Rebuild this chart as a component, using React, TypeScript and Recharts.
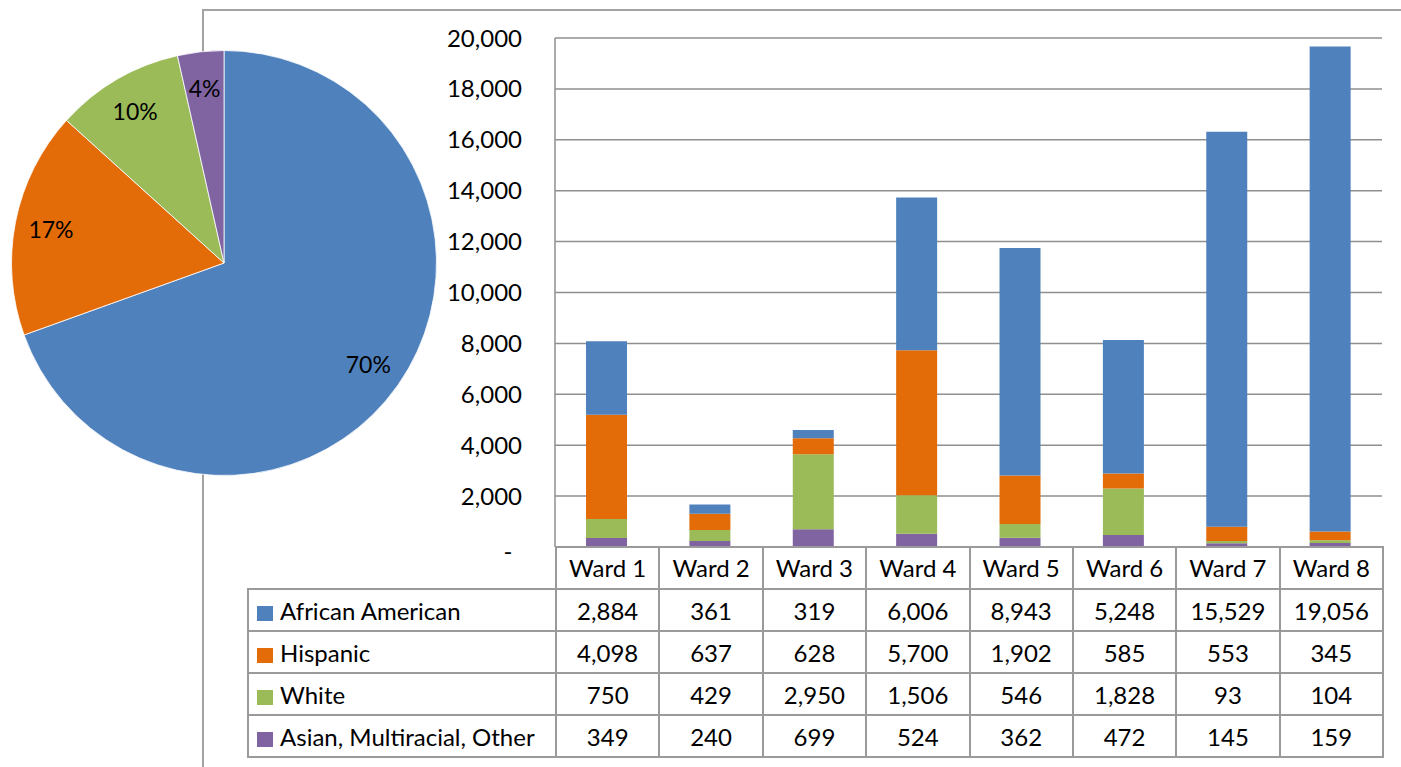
import { PieChart, Pie, Cell, BarChart, Bar, XAxis, YAxis, CartesianGrid } from "recharts";

const wards = ["Ward 1", "Ward 2", "Ward 3", "Ward 4", "Ward 5", "Ward 6", "Ward 7", "Ward 8"];
const africanAmerican = [2884, 361, 319, 6006, 8943, 5248, 15529, 19056];
const hispanic = [4098, 637, 628, 5700, 1902, 585, 553, 345];
const white = [750, 429, 2950, 1506, 546, 1828, 93, 104];
const asianOther = [349, 240, 699, 524, 362, 472, 145, 159];
const yTicks = [0, 2000, 4000, 6000, 8000, 10000, 12000, 14000, 16000, 18000, 20000];

const FONT = "Lato, 'Open Sans', sans-serif";
const GRID = "#8f8f8f";

// table rows top to bottom, stacks bottom to top is the reverse
const series = [
  { key: "aa", name: "African American", values: africanAmerican, color: "#4F81BD" },
  { key: "hisp", name: "Hispanic", values: hispanic, color: "#E36C09" },
  { key: "white", name: "White", values: white, color: "#9BBB59" },
  { key: "asian", name: "Asian, Multiracial, Other", values: asianOther, color: "#8064A2" },
];

const barData = wards.map((ward, i) => {
  const row: Record<string, string | number> = { ward };
  series.forEach((s) => (row[s.key] = s.values[i]));
  return row;
});

const pieData = series.map((s) => ({
  name: s.name,
  value: s.values.reduce((a, b) => a + b, 0),
  color: s.color,
}));

const fmt = (v: number) => v.toLocaleString("en-US");

const RAD = Math.PI / 180;

// eslint-disable-next-line @typescript-eslint/no-explicit-any
const PieLabel = ({ cx, cy, midAngle, outerRadius, percent }: any) => {
  const r = outerRadius * 0.83;
  const x = cx + r * Math.cos(-midAngle * RAD);
  const y = cy + r * Math.sin(-midAngle * RAD);
  return (
    <text x={x} y={y} textAnchor="middle" dominantBaseline="central" fill="#000" fontSize={23} fontFamily={FONT}>
      {Math.round(percent * 100)}%
    </text>
  );
};

// eslint-disable-next-line @typescript-eslint/no-explicit-any
const YTick = ({ x, y, payload }: any) => {
  const zero = payload.value === 0;
  return (
    <text
      x={zero ? x - 14 : x}
      y={zero ? y + 4 : y}
      dy="0.355em"
      textAnchor={zero ? "middle" : "end"}
      fill="#000"
      fontSize={24}
      fontFamily={FONT}
    >
      {zero ? "-" : fmt(payload.value)}
    </text>
  );
};

const cellBorder = "2px solid #9a9a9a";

export default function App() {
  return (
    <div style={{ position: "absolute", left: 0, top: 0, width: 1401, height: 767, overflow: "hidden", fontFamily: FONT }}>
      {/* chart frame */}
      <div
        style={{
          position: "absolute",
          left: 202,
          top: 9,
          width: 1300,
          height: 800,
          borderLeft: "2px solid #a3a3a3",
          borderTop: "2px solid #a3a3a3",
        }}
      />

      <div style={{ position: "absolute", left: 0, top: 0 }}>
        <BarChart
          width={1401}
          height={767}
          data={barData}
          margin={{ top: 38, right: 19, bottom: 220, left: 0 }}
          barCategoryGap="30%"
        >
          <CartesianGrid vertical={false} stroke={GRID} strokeWidth={1.5} />
          <XAxis dataKey="ward" hide />
          <YAxis
            width={555}
            domain={[0, 20000]}
            ticks={yTicks}
            tickLine={false}
            tickSize={6}
            tickMargin={27}
            axisLine={{ stroke: GRID, strokeWidth: 1.5 }}
            tick={<YTick />}
          />
          {[...series].reverse().map((s) => (
            <Bar key={s.key} dataKey={s.key} name={s.name} stackId="a" fill={s.color} isAnimationActive={false} />
          ))}
        </BarChart>
      </div>

      {/* data table under the bars */}
      <table
        style={{
          position: "absolute",
          left: 247,
          top: 546,
          borderCollapse: "collapse",
          tableLayout: "fixed",
          width: 308 + 827,
          fontSize: 24,
          fontFamily: FONT,
          color: "#000",
        }}
      >
        <colgroup>
          <col style={{ width: 308 }} />
          {wards.map((w) => (
            <col key={w} style={{ width: 827 / 8 }} />
          ))}
        </colgroup>
        <tbody>
          <tr style={{ height: 42 }}>
            <td style={{ border: "none", borderRight: cellBorder, padding: 0 }} />
            {wards.map((w) => (
              <td key={w} style={{ border: cellBorder, textAlign: "center", padding: "0 0 2px 0" }}>
                {w}
              </td>
            ))}
          </tr>
          {series.map((s) => (
            <tr key={s.key} style={{ height: 42 }}>
              <td style={{ border: cellBorder, padding: "0 0 0 8px", whiteSpace: "nowrap", overflow: "hidden" }}>
                <span
                  style={{
                    display: "inline-block",
                    width: 16,
                    height: 15,
                    background: s.color,
                    marginRight: 7,
                    verticalAlign: "-1px",
                  }}
                />
                {s.name}
              </td>
              {s.values.map((v, i) => (
                <td key={i} style={{ border: cellBorder, textAlign: "center", padding: 0 }}>
                  {fmt(v)}
                </td>
              ))}
            </tr>
          ))}
        </tbody>
      </table>

      {/* pie of totals across wards */}
      <div style={{ position: "absolute", left: 0, top: 0 }}>
        <PieChart width={450} height={490} margin={{ top: 0, right: 0, bottom: 0, left: 0 }}>
          <Pie
            data={pieData}
            dataKey="value"
            nameKey="name"
            cx={224}
            cy={263}
            outerRadius={212.5}
            startAngle={90}
            endAngle={-270}
            stroke="#fff"
            strokeWidth={0.8}
            label={PieLabel}
            labelLine={false}
            isAnimationActive={false}
          >
            {pieData.map((d) => (
              <Cell key={d.name} fill={d.color} />
            ))}
          </Pie>
        </PieChart>
      </div>
    </div>
  );
}
